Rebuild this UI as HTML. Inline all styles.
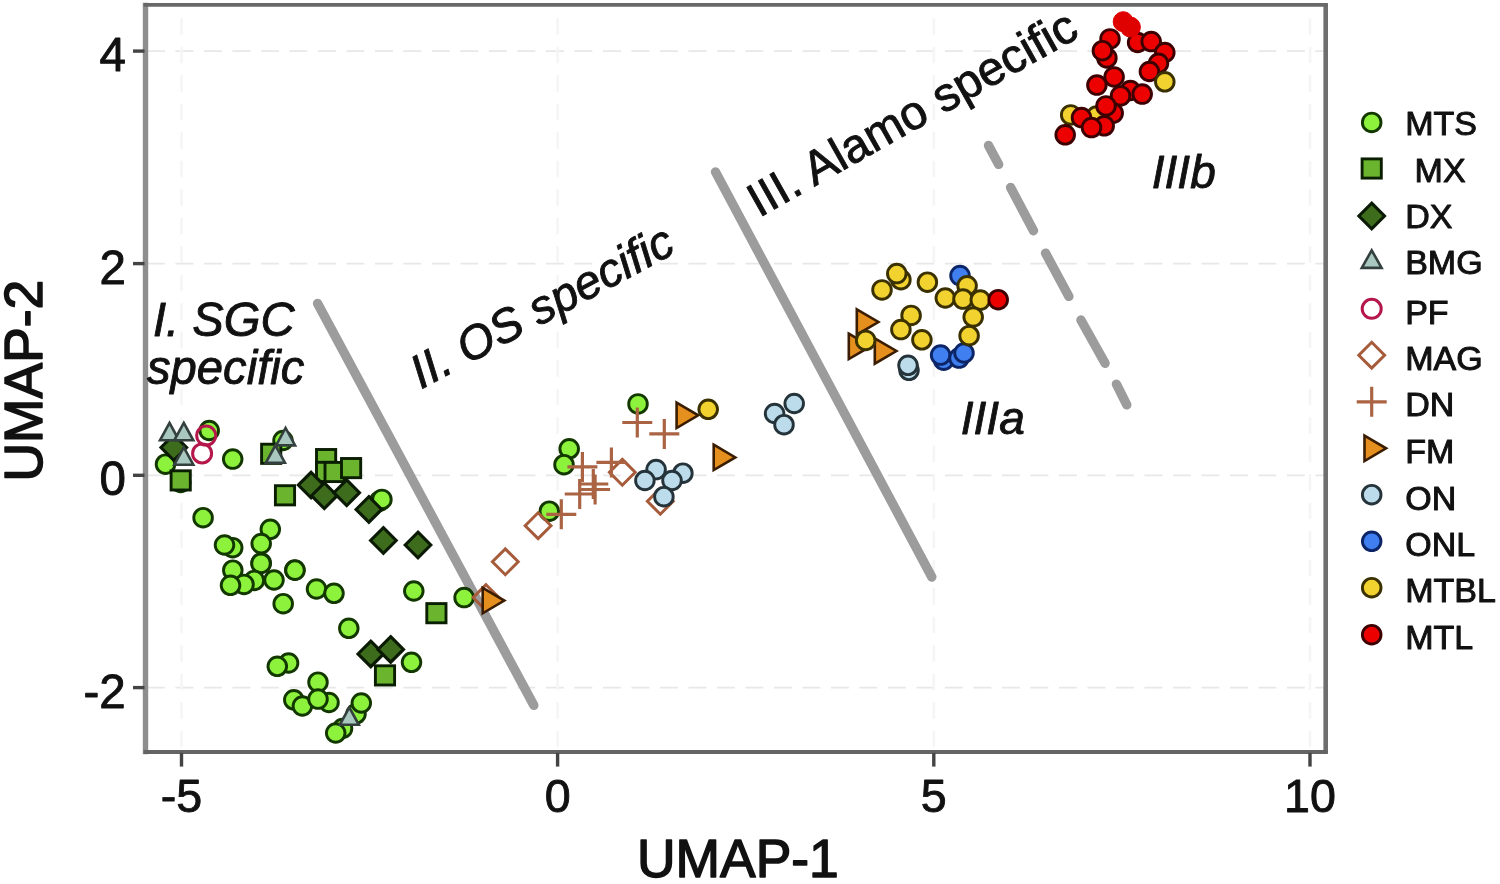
<!DOCTYPE html>
<html lang="en"><head><meta charset="utf-8"><title>UMAP</title>
<style>html,body{margin:0;padding:0;background:#fff}body{width:1500px;height:884px;overflow:hidden}svg{display:block;filter:blur(0.55px)}text{font-family:"Liberation Sans",Arial,Helvetica,sans-serif;fill:#111}</style>
</head><body>
<svg width="1500" height="884" viewBox="0 0 1500 884">
<rect width="1500" height="884" fill="#fff"/>
<g stroke="#e8e8e8" stroke-width="1.8" stroke-dasharray="18 10.5" fill="none">
<path d="M146.9 51.1H1326.3"/>
<path d="M146.9 263.6H1326.3"/>
<path d="M146.9 475.3H1326.3"/>
<path d="M146.9 687.6H1326.3"/>
</g>
<g stroke="#f5f5f5" stroke-width="2.6" stroke-dasharray="16.5 12" fill="none">
<path d="M181.5 18.3V751.9"/>
<path d="M557.6 18.3V751.9"/>
<path d="M933.8 18.3V751.9"/>
<path d="M1310.0 18.3V751.9"/>
</g>
<g stroke="#9c9c9c" stroke-width="9.4" stroke-linecap="round" fill="none">
<path d="M317.6 303.4L533.8 705.3"/>
<path d="M715.5 171.9L931.8 577"/>
<path d="M988.5 145.5L998.7 164.4"/>
<path d="M1010.6 187.5L1033.5 230.7"/>
<path d="M1045.5 253.1L1068.9 296.4"/>
<path d="M1080.9 320.0L1105.1 363.3"/>
<path d="M1116.4 384.1L1126.8 404.9"/>
</g>
<g id="pts" stroke-linejoin="miter">
<circle cx="209.2" cy="430.5" r="9.30" fill="#8cf23c" stroke="#123800" stroke-width="2.90"/>
<circle cx="165.5" cy="464.2" r="9.30" fill="#8cf23c" stroke="#123800" stroke-width="2.90"/>
<circle cx="232.7" cy="459.1" r="9.30" fill="#8cf23c" stroke="#123800" stroke-width="2.90"/>
<circle cx="180.7" cy="482.5" r="9.30" fill="#8cf23c" stroke="#123800" stroke-width="2.90"/>
<circle cx="203.1" cy="517.7" r="9.30" fill="#8cf23c" stroke="#123800" stroke-width="2.90"/>
<circle cx="270.3" cy="529.3" r="9.30" fill="#8cf23c" stroke="#123800" stroke-width="2.90"/>
<circle cx="261.2" cy="543.6" r="9.30" fill="#8cf23c" stroke="#123800" stroke-width="2.90"/>
<circle cx="232.7" cy="547.7" r="9.30" fill="#8cf23c" stroke="#123800" stroke-width="2.90"/>
<circle cx="224.5" cy="545.0" r="9.30" fill="#8cf23c" stroke="#123800" stroke-width="2.90"/>
<circle cx="261.2" cy="562.9" r="9.30" fill="#8cf23c" stroke="#123800" stroke-width="2.90"/>
<circle cx="294.8" cy="570.0" r="9.30" fill="#8cf23c" stroke="#123800" stroke-width="2.90"/>
<circle cx="379.6" cy="501.2" r="9.30" fill="#8cf23c" stroke="#123800" stroke-width="2.90"/>
<circle cx="381.9" cy="499.4" r="9.30" fill="#8cf23c" stroke="#123800" stroke-width="2.90"/>
<circle cx="283.0" cy="440.5" r="9.30" fill="#8cf23c" stroke="#123800" stroke-width="2.90"/>
<circle cx="232.8" cy="570.2" r="9.30" fill="#8cf23c" stroke="#123800" stroke-width="2.90"/>
<circle cx="261.0" cy="563.4" r="9.30" fill="#8cf23c" stroke="#123800" stroke-width="2.90"/>
<circle cx="295.0" cy="570.2" r="9.30" fill="#8cf23c" stroke="#123800" stroke-width="2.90"/>
<circle cx="254.3" cy="580.4" r="9.30" fill="#8cf23c" stroke="#123800" stroke-width="2.90"/>
<circle cx="244.0" cy="584.4" r="9.30" fill="#8cf23c" stroke="#123800" stroke-width="2.90"/>
<circle cx="230.5" cy="585.3" r="9.30" fill="#8cf23c" stroke="#123800" stroke-width="2.90"/>
<circle cx="274.0" cy="580.0" r="9.30" fill="#8cf23c" stroke="#123800" stroke-width="2.90"/>
<circle cx="316.5" cy="589.0" r="9.30" fill="#8cf23c" stroke="#123800" stroke-width="2.90"/>
<circle cx="334.0" cy="593.3" r="9.30" fill="#8cf23c" stroke="#123800" stroke-width="2.90"/>
<circle cx="283.2" cy="603.7" r="9.30" fill="#8cf23c" stroke="#123800" stroke-width="2.90"/>
<circle cx="413.8" cy="591.0" r="9.30" fill="#8cf23c" stroke="#123800" stroke-width="2.90"/>
<circle cx="348.8" cy="628.3" r="9.30" fill="#8cf23c" stroke="#123800" stroke-width="2.90"/>
<circle cx="411.5" cy="662.3" r="9.30" fill="#8cf23c" stroke="#123800" stroke-width="2.90"/>
<circle cx="288.6" cy="663.0" r="9.30" fill="#8cf23c" stroke="#123800" stroke-width="2.90"/>
<circle cx="277.3" cy="666.3" r="9.30" fill="#8cf23c" stroke="#123800" stroke-width="2.90"/>
<circle cx="318.0" cy="682.2" r="9.30" fill="#8cf23c" stroke="#123800" stroke-width="2.90"/>
<circle cx="293.8" cy="699.8" r="9.30" fill="#8cf23c" stroke="#123800" stroke-width="2.90"/>
<circle cx="302.4" cy="706.0" r="9.30" fill="#8cf23c" stroke="#123800" stroke-width="2.90"/>
<circle cx="329.0" cy="702.5" r="9.30" fill="#8cf23c" stroke="#123800" stroke-width="2.90"/>
<circle cx="318.0" cy="699.1" r="9.30" fill="#8cf23c" stroke="#123800" stroke-width="2.90"/>
<circle cx="356.0" cy="713.8" r="9.30" fill="#8cf23c" stroke="#123800" stroke-width="2.90"/>
<circle cx="361.3" cy="703.0" r="9.30" fill="#8cf23c" stroke="#123800" stroke-width="2.90"/>
<circle cx="342.5" cy="728.5" r="9.30" fill="#8cf23c" stroke="#123800" stroke-width="2.90"/>
<circle cx="335.7" cy="733.0" r="9.30" fill="#8cf23c" stroke="#123800" stroke-width="2.90"/>
<circle cx="638.0" cy="403.9" r="9.30" fill="#8cf23c" stroke="#123800" stroke-width="2.90"/>
<circle cx="569.2" cy="448.8" r="9.30" fill="#8cf23c" stroke="#123800" stroke-width="2.90"/>
<circle cx="564.0" cy="464.7" r="9.30" fill="#8cf23c" stroke="#123800" stroke-width="2.90"/>
<circle cx="549.3" cy="511.2" r="9.30" fill="#8cf23c" stroke="#123800" stroke-width="2.90"/>
<circle cx="464.1" cy="597.6" r="9.30" fill="#8cf23c" stroke="#123800" stroke-width="2.90"/>
<rect x="171.1" y="470.8" width="19.2" height="19.2" fill="#6bb52e" stroke="#0a1e02" stroke-width="2.90"/>
<rect x="261.6" y="444.2" width="19.2" height="19.2" fill="#6bb52e" stroke="#0a1e02" stroke-width="2.90"/>
<rect x="316.5" y="449.5" width="19.2" height="19.2" fill="#6bb52e" stroke="#0a1e02" stroke-width="2.90"/>
<rect x="316.5" y="462.3" width="19.2" height="19.2" fill="#6bb52e" stroke="#0a1e02" stroke-width="2.90"/>
<rect x="325.0" y="462.4" width="19.2" height="19.2" fill="#6bb52e" stroke="#0a1e02" stroke-width="2.90"/>
<rect x="341.5" y="458.5" width="19.2" height="19.2" fill="#6bb52e" stroke="#0a1e02" stroke-width="2.90"/>
<rect x="275.4" y="485.7" width="19.2" height="19.2" fill="#6bb52e" stroke="#0a1e02" stroke-width="2.90"/>
<rect x="375.4" y="665.8" width="19.2" height="19.2" fill="#6bb52e" stroke="#0a1e02" stroke-width="2.90"/>
<rect x="426.8" y="603.6" width="19.2" height="19.2" fill="#6bb52e" stroke="#0a1e02" stroke-width="2.90"/>
<path d="M173.8 434.7L186.6 447.5L173.8 460.3L161.0 447.5Z" fill="#3d6c1c" stroke="#0b1a04" stroke-width="3.10"/>
<path d="M311.1 472.3L323.9 485.1L311.1 497.9L298.3 485.1Z" fill="#3d6c1c" stroke="#0b1a04" stroke-width="3.10"/>
<path d="M324.3 482.9L337.1 495.7L324.3 508.5L311.5 495.7Z" fill="#3d6c1c" stroke="#0b1a04" stroke-width="3.10"/>
<path d="M346.7 479.9L359.5 492.7L346.7 505.5L333.9 492.7Z" fill="#3d6c1c" stroke="#0b1a04" stroke-width="3.10"/>
<path d="M368.9 496.6L381.7 509.4L368.9 522.2L356.1 509.4Z" fill="#3d6c1c" stroke="#0b1a04" stroke-width="3.10"/>
<path d="M383.4 527.7L396.2 540.5L383.4 553.3L370.6 540.5Z" fill="#3d6c1c" stroke="#0b1a04" stroke-width="3.10"/>
<path d="M418.0 532.2L430.8 545.0L418.0 557.8L405.2 545.0Z" fill="#3d6c1c" stroke="#0b1a04" stroke-width="3.10"/>
<path d="M370.8 641.1L383.6 653.9L370.8 666.7L358.0 653.9Z" fill="#3d6c1c" stroke="#0b1a04" stroke-width="3.10"/>
<path d="M390.7 636.6L403.5 649.4L390.7 662.2L377.9 649.4Z" fill="#3d6c1c" stroke="#0b1a04" stroke-width="3.10"/>
<path d="M169.5 422.9L179.0 440.3L160.0 440.3Z" fill="#a9c8c0" stroke="#33403d" stroke-width="2.60" stroke-linejoin="miter"/>
<path d="M183.8 422.9L193.3 440.3L174.3 440.3Z" fill="#a9c8c0" stroke="#33403d" stroke-width="2.60" stroke-linejoin="miter"/>
<path d="M183.8 447.3L193.3 464.7L174.3 464.7Z" fill="#a9c8c0" stroke="#33403d" stroke-width="2.60" stroke-linejoin="miter"/>
<path d="M285.6 428.0L295.1 445.4L276.1 445.4Z" fill="#a9c8c0" stroke="#33403d" stroke-width="2.60" stroke-linejoin="miter"/>
<path d="M275.4 445.3L284.9 462.7L265.9 462.7Z" fill="#a9c8c0" stroke="#33403d" stroke-width="2.60" stroke-linejoin="miter"/>
<path d="M349.3 707.4L358.8 724.8L339.8 724.8Z" fill="#a9c8c0" stroke="#33403d" stroke-width="2.60" stroke-linejoin="miter"/>
<circle cx="206.2" cy="435.6" r="9.50" fill="none" stroke="#b5174b" stroke-width="3.00"/>
<circle cx="202.1" cy="453.4" r="9.50" fill="none" stroke="#b5174b" stroke-width="3.00"/>
<path d="M622.3 459.4L635.2 472.3L622.3 485.2L609.4 472.3Z" fill="none" stroke="#a65b3b" stroke-width="3.00"/>
<path d="M660.3 488.4L673.2 501.3L660.3 514.2L647.4 501.3Z" fill="none" stroke="#a65b3b" stroke-width="3.00"/>
<path d="M538.1 512.8L551.0 525.7L538.1 538.6L525.2 525.7Z" fill="none" stroke="#a65b3b" stroke-width="3.00"/>
<path d="M505.3 548.9L518.2 561.8L505.3 574.7L492.4 561.8Z" fill="none" stroke="#a65b3b" stroke-width="3.00"/>
<path d="M486.0 584.7L498.9 597.6L486.0 610.5L473.1 597.6Z" fill="none" stroke="#a65b3b" stroke-width="3.00"/>
<path d="M622.3 422.5H652.3M637.3 407.5V437.5" fill="none" stroke="#aa6444" stroke-width="3.20"/>
<path d="M649.3 433.9H679.3M664.3 418.9V448.9" fill="none" stroke="#aa6444" stroke-width="3.20"/>
<path d="M596.4 462.4H626.4M611.4 447.4V477.4" fill="none" stroke="#aa6444" stroke-width="3.20"/>
<path d="M567.4 466.9H597.4M582.4 451.9V481.9" fill="none" stroke="#aa6444" stroke-width="3.20"/>
<path d="M578.3 484.0H608.3M593.3 469.0V499.0" fill="none" stroke="#aa6444" stroke-width="3.20"/>
<path d="M580.1 489.5H610.1M595.1 474.5V504.5" fill="none" stroke="#aa6444" stroke-width="3.20"/>
<path d="M564.7 494.0H594.7M579.7 479.0V509.0" fill="none" stroke="#aa6444" stroke-width="3.20"/>
<path d="M546.3 514.3H576.3M561.3 499.3V529.3" fill="none" stroke="#aa6444" stroke-width="3.20"/>
<path d="M676.6 402.6L698.2 415.3L676.6 428.0Z" fill="#e58f1e" stroke="#3a1c00" stroke-width="2.60" stroke-linejoin="miter"/>
<path d="M713.7 444.7L735.3 457.4L713.7 470.1Z" fill="#e58f1e" stroke="#3a1c00" stroke-width="2.60" stroke-linejoin="miter"/>
<path d="M482.7 587.9L504.3 600.6L482.7 613.3Z" fill="#e58f1e" stroke="#3a1c00" stroke-width="2.60" stroke-linejoin="miter"/>
<path d="M856.8 309.3L878.4 322.0L856.8 334.7Z" fill="#e58f1e" stroke="#3a1c00" stroke-width="2.60" stroke-linejoin="miter"/>
<path d="M848.8 333.7L870.4 346.4L848.8 359.1Z" fill="#e58f1e" stroke="#3a1c00" stroke-width="2.60" stroke-linejoin="miter"/>
<path d="M874.8 338.3L896.4 351.0L874.8 363.7Z" fill="#e58f1e" stroke="#3a1c00" stroke-width="2.60" stroke-linejoin="miter"/>
<circle cx="656.1" cy="469.6" r="9.30" fill="#bcdcec" stroke="#25333a" stroke-width="2.90"/>
<circle cx="682.9" cy="473.2" r="9.30" fill="#bcdcec" stroke="#25333a" stroke-width="2.90"/>
<circle cx="644.9" cy="480.5" r="9.30" fill="#bcdcec" stroke="#25333a" stroke-width="2.90"/>
<circle cx="672.0" cy="480.5" r="9.30" fill="#bcdcec" stroke="#25333a" stroke-width="2.90"/>
<circle cx="663.9" cy="496.7" r="9.30" fill="#bcdcec" stroke="#25333a" stroke-width="2.90"/>
<circle cx="774.6" cy="413.5" r="9.30" fill="#bcdcec" stroke="#25333a" stroke-width="2.90"/>
<circle cx="794.2" cy="403.5" r="9.30" fill="#bcdcec" stroke="#25333a" stroke-width="2.90"/>
<circle cx="784.0" cy="424.7" r="9.30" fill="#bcdcec" stroke="#25333a" stroke-width="2.90"/>
<circle cx="909.0" cy="370.3" r="9.30" fill="#bcdcec" stroke="#25333a" stroke-width="2.90"/>
<circle cx="908.0" cy="365.3" r="9.30" fill="#bcdcec" stroke="#25333a" stroke-width="2.90"/>
<circle cx="960.0" cy="275.6" r="9.30" fill="#3f7fef" stroke="#0c2566" stroke-width="2.90"/>
<circle cx="943.7" cy="360.2" r="9.30" fill="#3f7fef" stroke="#0c2566" stroke-width="2.90"/>
<circle cx="940.6" cy="355.1" r="9.30" fill="#3f7fef" stroke="#0c2566" stroke-width="2.90"/>
<circle cx="959.0" cy="358.1" r="9.30" fill="#3f7fef" stroke="#0c2566" stroke-width="2.90"/>
<circle cx="964.0" cy="353.0" r="9.30" fill="#3f7fef" stroke="#0c2566" stroke-width="2.90"/>
<circle cx="708.2" cy="409.3" r="9.30" fill="#f2d22e" stroke="#3a3000" stroke-width="2.90"/>
<circle cx="900.9" cy="279.7" r="9.30" fill="#f2d22e" stroke="#3a3000" stroke-width="2.90"/>
<circle cx="896.8" cy="273.6" r="9.30" fill="#f2d22e" stroke="#3a3000" stroke-width="2.90"/>
<circle cx="882.0" cy="289.9" r="9.30" fill="#f2d22e" stroke="#3a3000" stroke-width="2.90"/>
<circle cx="927.4" cy="282.2" r="9.30" fill="#f2d22e" stroke="#3a3000" stroke-width="2.90"/>
<circle cx="945.3" cy="298.0" r="9.30" fill="#f2d22e" stroke="#3a3000" stroke-width="2.90"/>
<circle cx="967.1" cy="285.8" r="9.30" fill="#f2d22e" stroke="#3a3000" stroke-width="2.90"/>
<circle cx="963.0" cy="299.1" r="9.30" fill="#f2d22e" stroke="#3a3000" stroke-width="2.90"/>
<circle cx="980.3" cy="300.1" r="9.30" fill="#f2d22e" stroke="#3a3000" stroke-width="2.90"/>
<circle cx="973.2" cy="317.0" r="9.30" fill="#f2d22e" stroke="#3a3000" stroke-width="2.90"/>
<circle cx="969.1" cy="335.7" r="9.30" fill="#f2d22e" stroke="#3a3000" stroke-width="2.90"/>
<circle cx="911.1" cy="315.4" r="9.30" fill="#f2d22e" stroke="#3a3000" stroke-width="2.90"/>
<circle cx="900.9" cy="329.6" r="9.30" fill="#f2d22e" stroke="#3a3000" stroke-width="2.90"/>
<circle cx="921.9" cy="339.8" r="9.30" fill="#f2d22e" stroke="#3a3000" stroke-width="2.90"/>
<circle cx="865.7" cy="340.4" r="9.30" fill="#f2d22e" stroke="#3a3000" stroke-width="2.90"/>
<circle cx="1070.7" cy="114.9" r="9.30" fill="#f2d22e" stroke="#3a3000" stroke-width="2.90"/>
<circle cx="1096.5" cy="116.0" r="9.30" fill="#f2d22e" stroke="#3a3000" stroke-width="2.90"/>
<circle cx="998.2" cy="299.7" r="9.30" fill="#ec0000" stroke="#3c0000" stroke-width="2.90"/>
<circle cx="1106.9" cy="57.9" r="9.30" fill="#ec0000" stroke="#3c0000" stroke-width="2.90"/>
<circle cx="1110.0" cy="38.9" r="9.30" fill="#ec0000" stroke="#3c0000" stroke-width="2.90"/>
<circle cx="1102.4" cy="50.7" r="9.30" fill="#ec0000" stroke="#3c0000" stroke-width="2.90"/>
<circle cx="1137.6" cy="42.5" r="9.30" fill="#ec0000" stroke="#3c0000" stroke-width="2.90"/>
<circle cx="1151.2" cy="41.6" r="9.30" fill="#ec0000" stroke="#3c0000" stroke-width="2.90"/>
<circle cx="1164.8" cy="52.5" r="9.30" fill="#ec0000" stroke="#3c0000" stroke-width="2.90"/>
<circle cx="1158.5" cy="63.3" r="9.30" fill="#ec0000" stroke="#3c0000" stroke-width="2.90"/>
<circle cx="1149.4" cy="71.5" r="9.30" fill="#ec0000" stroke="#3c0000" stroke-width="2.90"/>
<circle cx="1114.1" cy="76.9" r="9.30" fill="#ec0000" stroke="#3c0000" stroke-width="2.90"/>
<circle cx="1096.9" cy="85.1" r="9.30" fill="#ec0000" stroke="#3c0000" stroke-width="2.90"/>
<circle cx="1130.4" cy="90.5" r="9.30" fill="#ec0000" stroke="#3c0000" stroke-width="2.90"/>
<circle cx="1142.2" cy="94.1" r="9.30" fill="#ec0000" stroke="#3c0000" stroke-width="2.90"/>
<circle cx="1120.5" cy="95.9" r="9.30" fill="#ec0000" stroke="#3c0000" stroke-width="2.90"/>
<circle cx="1113.2" cy="113.1" r="9.30" fill="#ec0000" stroke="#3c0000" stroke-width="2.90"/>
<circle cx="1106.0" cy="105.9" r="9.30" fill="#ec0000" stroke="#3c0000" stroke-width="2.90"/>
<circle cx="1081.5" cy="117.6" r="9.30" fill="#ec0000" stroke="#3c0000" stroke-width="2.90"/>
<circle cx="1104.2" cy="125.8" r="9.30" fill="#ec0000" stroke="#3c0000" stroke-width="2.90"/>
<circle cx="1091.5" cy="127.6" r="9.30" fill="#ec0000" stroke="#3c0000" stroke-width="2.90"/>
<circle cx="1065.2" cy="134.8" r="9.30" fill="#ec0000" stroke="#3c0000" stroke-width="2.90"/>
<circle cx="1164.8" cy="81.8" r="9.30" fill="#f2d22e" stroke="#3a3000" stroke-width="2.90"/>
<circle cx="1123.2" cy="21.7" r="10.00" fill="#df0000" stroke="#df0000" stroke-width="1.00"/>
<circle cx="1130.4" cy="27.1" r="10.00" fill="#df0000" stroke="#df0000" stroke-width="1.00"/>
</g>
<g fill="none" stroke-linecap="square">
<path d="M145.5 5.5V751.5" stroke="#8e8e8e" stroke-width="5.4"/>
<path d="M1325.7 5.5V751.5" stroke="#6e6e6e" stroke-width="4.6"/>
<path d="M145.5 4.9H1325.7" stroke="#686868" stroke-width="3.8"/>
<path d="M145.5 752.0H1325.7" stroke="#646464" stroke-width="3.8"/>
</g>
<g stroke="#444" stroke-width="3.4" fill="none">
<path d="M181.5 752.9V766.6"/>
<path d="M557.6 752.9V766.6"/>
<path d="M933.8 752.9V766.6"/>
<path d="M1310.0 752.9V766.6"/>
<path d="M133.0 51.1H144.5"/>
<path d="M133.0 263.6H144.5"/>
<path d="M133.0 475.3H144.5"/>
<path d="M133.0 687.6H144.5"/>
</g>
<g font-size="47.5" stroke="#111" stroke-width="0.9" stroke-linejoin="round">
<text x="181.5" y="812.3" font-size="46.6" text-anchor="middle">-5</text>
<text x="557.6" y="812.3" font-size="46.6" text-anchor="middle">0</text>
<text x="933.8" y="812.3" font-size="46.6" text-anchor="middle">5</text>
<text x="1310.0" y="812.3" font-size="46.6" text-anchor="middle">10</text>
<text x="125.8" y="71.1" text-anchor="end">4</text>
<text x="125.8" y="283.6" text-anchor="end">2</text>
<text x="125.8" y="495.3" text-anchor="end">0</text>
<text x="125.8" y="707.6" text-anchor="end">-2</text>
</g>
<g font-size="53.4" stroke="#111" stroke-width="1.5" stroke-linejoin="round">
<text x="637" y="877">UMAP-1</text>
<text transform="translate(42.4 380.6) rotate(-90)" text-anchor="middle">UMAP-2</text>
</g>
<g font-size="47.2" stroke="#111" stroke-width="0.9" stroke-linejoin="round">
<text x="153" y="335.6" font-style="italic">I. SGC</text>
<text x="147" y="384" font-style="italic">specific</text>
<text transform="translate(421 389.5) rotate(-28.2)" font-style="italic">II. OS specific</text>
<text transform="translate(759 218) rotate(-29.45)" font-size="47.5">III. Alamo specific</text>
<text x="960.8" y="434.2" font-size="46" font-style="italic">IIIa</text>
<text x="1151.8" y="187.9" font-size="46" font-style="italic">IIIb</text>
</g>
<g id="legend">
<circle cx="1371.7" cy="122.4" r="9.30" fill="#8cf23c" stroke="#123800" stroke-width="2.90"/>
<rect x="1362.1" y="158.9" width="19.2" height="19.2" fill="#6bb52e" stroke="#0a1e02" stroke-width="2.90"/>
<path d="M1371.7 203.2L1384.5 216.0L1371.7 228.8L1358.9 216.0Z" fill="#3d6c1c" stroke="#0b1a04" stroke-width="3.10"/>
<path d="M1371.7 250.3L1381.6 267.9L1361.8 267.9Z" fill="#a9c8c0" stroke="#33403d" stroke-width="2.60" stroke-linejoin="miter"/>
<circle cx="1371.7" cy="308.8" r="9.50" fill="none" stroke="#b5174b" stroke-width="3.00"/>
<path d="M1371.7 342.3L1384.6 355.2L1371.7 368.1L1358.8 355.2Z" fill="none" stroke="#a65b3b" stroke-width="3.00"/>
<path d="M1356.7 401.8H1386.7M1371.7 386.8V416.8" fill="none" stroke="#aa6444" stroke-width="3.20"/>
<path d="M1364.5 435.6L1386.1 448.3L1364.5 461.0Z" fill="#e58f1e" stroke="#3a1c00" stroke-width="2.60" stroke-linejoin="miter"/>
<circle cx="1371.7" cy="494.7" r="9.30" fill="#bcdcec" stroke="#25333a" stroke-width="2.90"/>
<circle cx="1371.7" cy="541.3" r="9.30" fill="#3f7fef" stroke="#0c2566" stroke-width="2.90"/>
<circle cx="1371.7" cy="587.7" r="9.30" fill="#f2d22e" stroke="#3a3000" stroke-width="2.90"/>
<circle cx="1371.7" cy="634.7" r="9.30" fill="#ec0000" stroke="#3c0000" stroke-width="2.90"/>
<g font-size="34" stroke="#111" stroke-width="1" stroke-linejoin="round">
<text x="1405.2" y="135.0">MTS</text>
<text x="1414.6" y="181.6">MX</text>
<text x="1405.2" y="227.8">DX</text>
<text x="1405.2" y="273.9">BMG</text>
<text x="1405.2" y="323.8">PF</text>
<text x="1405.2" y="369.7">MAG</text>
<text x="1405.2" y="416.2">DN</text>
<text x="1405.2" y="462.6">FM</text>
<text x="1405.2" y="510.0">ON</text>
<text x="1405.2" y="556.2">ONL</text>
<text x="1405.2" y="602.4">MTBL</text>
<text x="1405.2" y="649.3">MTL</text>
</g></g>
</svg></body></html>
